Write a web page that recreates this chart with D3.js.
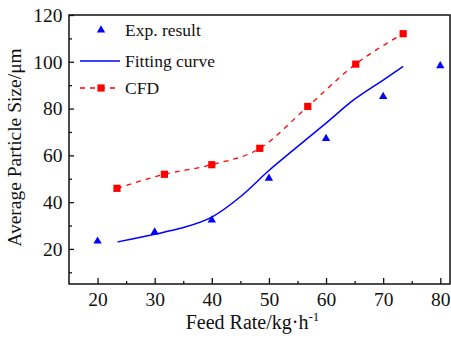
<!DOCTYPE html>
<meta charset="utf-8">
<script src="https://d3js.org/d3.v7.min.js"></script>
<style>
body { margin: 0; background: #fff; }
svg text { font-family: "Liberation Serif", Tinos, "Times New Roman", Times, "DejaVu Serif", serif; fill: #111; }
</style>
<div id="my_dataviz"></div>
<script>

// experimental points
var expX = [20, 30, 40, 50, 60, 70, 80];
var expY = [23.3, 27.2, 32.3, 50.2, 67.2, 85.1, 98.3];

// fitting curve
var fitX = [23.5, 30, 34.5, 40, 45, 50, 55, 60, 65, 70, 73.5];
var fitY = [23, 26.3, 28.8, 33.6, 42.3, 53.5, 63.7, 73.8, 84, 92.2, 98];

// CFD
var cfdX = [23.4, 31.7, 40, 48.4, 56.8, 65.2, 73.5];
var cfdY = [45.9, 51.9, 56, 63, 80.9, 99, 112];

var xTicks = [20, 30, 40, 50, 60, 70, 80];
var yTicks = [20, 40, 60, 80, 100, 120];

var legendLabels = ["Exp. result", "Fitting curve", "CFD"];

var margin = {top: 15, right: 1, bottom: 54, left: 69},
    width = 451 - margin.left - margin.right,
    height = 338 - margin.top - margin.bottom;

var svg = d3.select("#my_dataviz")
  .append("svg")
    .attr("width", 451)
    .attr("height", 338)
  .append("g")
    .attr("transform", "translate(" + margin.left + "," + margin.top + ")");

var x = d3.scaleLinear().domain([15, 81.7]).range([0, width]);
var y = d3.scaleLinear().domain([5, 120]).range([height, 0]);

// frame
svg.append("rect")
  .attr("width", width).attr("height", height)
  .attr("fill", "none").attr("stroke", "#111").attr("stroke-width", 1.5);

// x axis, ticks pointing inside
svg.append("g")
  .attr("transform", "translate(0," + height + ")")
  .call(d3.axisBottom(x).tickValues(xTicks).tickSize(-6).tickPadding(8.5).tickFormat(d3.format("d")));
svg.append("g")
  .attr("transform", "translate(0," + height + ")")
  .call(d3.axisBottom(x).tickValues([25, 35, 45, 55, 65, 75]).tickSize(-3).tickFormat(""));

svg.append("g")
  .call(d3.axisLeft(y).tickValues(yTicks).tickSize(-5).tickPadding(6.5).tickFormat(d3.format("d")));
svg.append("g")
  .call(d3.axisLeft(y).tickValues([10, 30, 50, 70, 90, 110]).tickSize(-3).tickFormat(""));

svg.selectAll(".domain").remove();
svg.selectAll("g").attr("font-family", null);
svg.selectAll(".tick line").attr("stroke", "#111").attr("stroke-width", 1.3);
svg.selectAll(".tick text").attr("font-size", null).style("font-size", "19.5px");

// axis titles
svg.append("text")
  .attr("x", width / 2 - 7)
  .attr("y", height + 45)
  .attr("text-anchor", "middle")
  .style("font-size", "20px")
  .html("Feed Rate/kg·h<tspan dy='-8' style='font-size:13px'>-1</tspan>");

svg.append("text")
  .attr("transform", "translate(" + (-48.5) + "," + (147.5 - margin.top) + ") rotate(-90)")
  .attr("text-anchor", "middle")
  .style("font-size", "19.5px")
  .text("Average Particle Size/μm");

// fitting curve
var fitData = fitX.map(function (d, i) { return [d, fitY[i]]; });
svg.append("path")
  .datum(fitData)
  .attr("fill", "none")
  .attr("stroke", "#0000ff")
  .attr("stroke-width", 1.5)
  .attr("d", d3.line().x(function (d) { return x(d[0]); }).y(function (d) { return y(d[1]); }).curve(d3.curveMonotoneX));

// CFD dashed line
var cfdData = cfdX.map(function (d, i) { return [d, cfdY[i]]; });
svg.append("path")
  .datum(cfdData)
  .attr("fill", "none")
  .attr("stroke", "#ff0000")
  .attr("stroke-width", 1.3)
  .attr("stroke-dasharray", "5,5")
  .attr("d", d3.line().x(function (d) { return x(d[0]); }).y(function (d) { return y(d[1]); }).curve(d3.curveMonotoneX));

var tri = d3.symbol().type(d3.symbolTriangle).size(30);
var sq = d3.symbol().type(d3.symbolSquare).size(52);

svg.append("g").selectAll("path")
  .data(expX.map(function (d, i) { return [d, expY[i]]; }))
  .enter().append("path")
    .attr("d", tri)
    .attr("transform", function (d) { return "translate(" + x(d[0]) + "," + y(d[1]) + ")"; })
    .attr("fill", "#0000ff");

svg.append("g").selectAll("path")
  .data(cfdData)
  .enter().append("path")
    .attr("d", sq)
    .attr("transform", function (d) { return "translate(" + x(d[0]) + "," + y(d[1]) + ")"; })
    .attr("fill", "#ff0000");

// legend
var lg = svg.append("g");
var lx = 101 - margin.left;
var rows = [30, 61, 88].map(function (v) { return v - margin.top; });

lg.append("path").attr("d", tri).attr("fill", "#0000ff")
  .attr("transform", "translate(" + lx + "," + rows[0] + ")");
lg.append("line").attr("x1", lx - 21).attr("x2", lx + 19).attr("y1", rows[1]).attr("y2", rows[1])
  .attr("stroke", "#0000ff").attr("stroke-width", 1.5);
lg.append("line").attr("x1", lx - 21).attr("x2", lx + 19).attr("y1", rows[2]).attr("y2", rows[2])
  .attr("stroke", "#ff0000").attr("stroke-width", 1.3).attr("stroke-dasharray", "5,5");
lg.append("path").attr("d", sq).attr("fill", "#ff0000")
  .attr("transform", "translate(" + lx + "," + rows[2] + ")");

lg.selectAll("text.leg")
  .data(legendLabels)
  .enter().append("text")
    .attr("class", "leg")
    .attr("x", lx + 24)
    .attr("y", function (d, i) { return rows[i] + 6; })
    .style("font-size", "17.5px")
    .text(function (d) { return d; });

</script>
